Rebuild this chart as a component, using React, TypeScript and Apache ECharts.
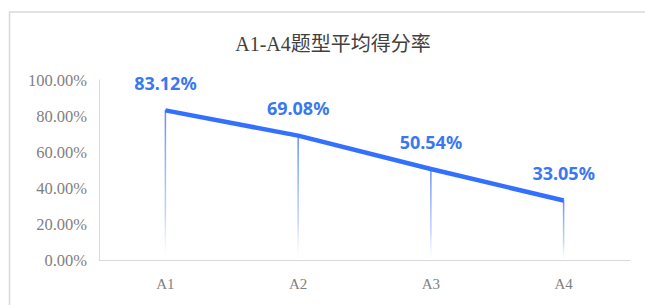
import React, { useEffect, useRef } from "react";
import * as echarts from "echarts";

const title = "A1-A4题型平均得分率";
const categories = ["A1", "A2", "A3", "A4"];
const values = [83.12, 69.08, 50.54, 33.05];
const yMin = 0;
const yMax = 100;
const yInterval = 20;

export default function App() {
  const ref = useRef<HTMLDivElement>(null);
  useEffect(() => {
    if (!ref.current) return;
    const chart = echarts.init(ref.current, null, { renderer: "svg" });
    chart.setOption({
      animation: false,
      backgroundColor: "#ffffff",
      title: {
        text: title,
        left: 328,
        textAlign: "center",
        top: 29,
        textStyle: {
          fontFamily: "'Liberation Serif', 'Noto Sans CJK SC', serif",
          fontSize: 20,
          fontWeight: "normal",
          color: "#404040",
        },
      },
      graphic: [
        {
          type: "polyline",
          silent: true,
          shape: { points: [[9.5, 400], [9.5, 12], [700, 12]] },
          style: { stroke: "#d9d9d9", lineWidth: 1.5, fill: "none" },
        },
      ],
      grid: { left: 99, right: 15, top: 80, bottom: 45 },
      xAxis: {
        type: "category",
        data: categories,
        axisLine: { lineStyle: { color: "#d9d9d9", width: 1 } },
        axisTick: { show: false },
        axisLabel: {
          color: "#7f7f7f",
          fontFamily: "'Liberation Serif', serif",
          fontSize: 15,
          margin: 16,
        },
      },
      yAxis: {
        type: "value",
        min: yMin,
        max: yMax,
        interval: yInterval,
        axisLine: { show: true, lineStyle: { color: "#d9d9d9", width: 1 } },
        axisTick: { show: false },
        splitLine: { show: false },
        axisLabel: {
          color: "#7f7f7f",
          fontFamily: "'Liberation Serif', serif",
          fontSize: 16.5,
          margin: 12,
          formatter: (v: number) => v.toFixed(2) + "%",
        },
      },
      series: [
        {
          type: "bar",
          data: values,
          barWidth: 1.5,
          silent: true,
          itemStyle: {
            color: new echarts.graphic.LinearGradient(0, 0, 0, 1, [
              { offset: 0, color: "rgba(70,120,245,0.85)" },
              { offset: 0.7, color: "rgba(120,160,250,0.45)" },
              { offset: 1, color: "rgba(255,255,255,0.2)" },
            ]),
          },
        },
        {
          type: "line",
          data: values,
          symbol: "circle",
          symbolSize: 1,
          showSymbol: true,
          itemStyle: { color: "#3370ff" },
          lineStyle: { color: "#3370ff", width: 4.5 },
          label: {
            show: true,
            position: "top",
            distance: 18,
            color: "#3a78f2",
            fontFamily: "'Noto Sans', 'Liberation Sans', sans-serif",
            fontWeight: "bold",
            fontSize: 18,
            formatter: (p: any) => p.value.toFixed(2) + "%",
          },
        },
      ],
    });
    return () => chart.dispose();
  }, []);
  return (
    <div
      ref={ref}
      style={{ position: "absolute", left: 0, top: 0, width: 645, height: 305 }}
    />
  );
}
